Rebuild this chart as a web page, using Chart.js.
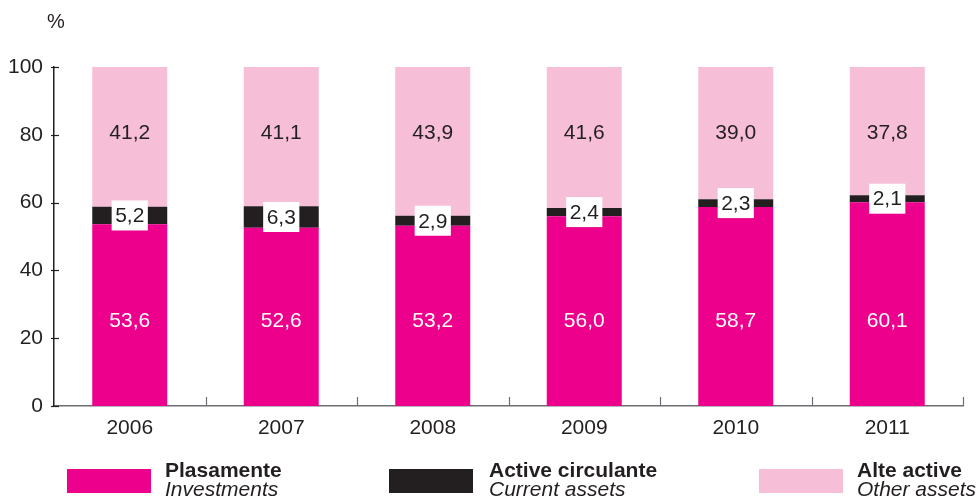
<!DOCTYPE html>
<html>
<head>
<meta charset="utf-8">
<script src="https://cdn.jsdelivr.net/npm/chart.js@4"></script>
<style>
  html, body { margin: 0; padding: 0; background: #fff; }
  #wrap { width: 980px; height: 501px; }
</style>
</head>
<body>
<div id="wrap"><canvas id="structChart" width="980" height="501"></canvas></div>
<script>
// Structura activelor (%)
const years = ["2006", "2007", "2008", "2009", "2010", "2011"];
const plasamente = [53.6, 52.6, 53.2, 56.0, 58.7, 60.1];
const activeCirculante = [5.2, 6.3, 2.9, 2.4, 2.3, 2.1];
const alteActive = [41.2, 41.1, 43.9, 41.6, 39.0, 37.8];
const yTicks = [0, 20, 40, 60, 80, 100];

const MAGENTA = "#ec008c";
const DARK = "#231f20";
const LIGHT = "#f6bfd7";
const FONT = "'Liberation Sans', Arial, sans-serif";

const fmt = (v) => v.toFixed(1).replace(".", ",");

// etichetele de valoare: cele roz pe un rand comun, cele negre in caseta alba
const valueLabels = {
  id: "valueLabels",
  afterDatasetsDraw(chart) {
    const ctx = chart.ctx;
    const ys = chart.scales.y;
    ctx.save();
    ctx.font = "21px " + FONT;
    ctx.textAlign = "center";
    ctx.textBaseline = "middle";
    chart.data.datasets.forEach((ds, i) => {
      const meta = chart.getDatasetMeta(i);
      meta.data.forEach((bar, j) => {
        const txt = fmt(ds.data[j]);
        let y;
        if (i === 0) {
          y = ys.getPixelForValue(25.4);
          ctx.fillStyle = "#fff";
        } else if (i === 1) {
          y = (bar.y + bar.base) / 2;
          const w = ctx.measureText(txt).width + 7;
          ctx.fillStyle = "#fff";
          ctx.fillRect(bar.x - w / 2, y - 15, w, 30);
          ctx.fillStyle = DARK;
        } else {
          y = ys.getPixelForValue(80.8);
          ctx.fillStyle = DARK;
        }
        ctx.fillText(txt, bar.x, y + 1);
      });
    });
    ctx.restore();
  }
};

// liniutele axelor, simbolul % si legenda de jos
const decorations = {
  id: "decorations",
  afterDraw(chart) {
    const ctx = chart.ctx;
    const ys = chart.scales.y;
    const xs = chart.scales.x;
    const left = chart.chartArea.left;
    const bottom = chart.chartArea.bottom;
    ctx.save();
    ctx.strokeStyle = DARK;
    ctx.lineWidth = 1.2;
    yTicks.forEach((t) => {
      const y = Math.round(ys.getPixelForValue(t)) + 0.5;
      ctx.beginPath();
      ctx.moveTo(left - 3, y);
      ctx.lineTo(left + 5, y);
      ctx.stroke();
    });
    // liniute intre ani si la capatul axei
    ctx.strokeStyle = "#6d6e71";
    const step = xs.getPixelForValue(1) - xs.getPixelForValue(0);
    for (let k = 0; k < years.length; k++) {
      const xx = k < years.length - 1 ? xs.getPixelForValue(k) + step / 2 : xs.right;
      ctx.beginPath();
      ctx.moveTo(Math.round(xx) + 0.5, bottom);
      ctx.lineTo(Math.round(xx) + 0.5, bottom - 9);
      ctx.stroke();
    }

    ctx.fillStyle = DARK;
    ctx.font = "20px " + FONT;
    ctx.textAlign = "left";
    ctx.textBaseline = "alphabetic";
    ctx.fillText("%", 47, 28);

    const items = [
      { color: MAGENTA, ro: "Plasamente", en: "Investments", box: 67, text: 165 },
      { color: DARK, ro: "Active circulante", en: "Current assets", box: 389, text: 489 },
      { color: LIGHT, ro: "Alte active", en: "Other assets", box: 759, text: 857 }
    ];
    items.forEach((it) => {
      ctx.fillStyle = it.color;
      ctx.fillRect(it.box, 469, 84, 24);
      ctx.fillStyle = DARK;
      ctx.font = "bold 21px " + FONT;
      ctx.fillText(it.ro, it.text, 477);
      ctx.font = "italic 21px " + FONT;
      ctx.fillText(it.en, it.text, 496);
    });
    ctx.restore();
  }
};

new Chart(document.getElementById("structChart"), {
  type: "bar",
  data: {
    labels: years,
    datasets: [
      { label: "Plasamente", data: plasamente, backgroundColor: MAGENTA },
      { label: "Active circulante", data: activeCirculante, backgroundColor: DARK },
      { label: "Alte active", data: alteActive, backgroundColor: LIGHT }
    ]
  },
  options: {
    responsive: false,
    animation: false,
    events: [],
    layout: { padding: { top: 67, right: 17, left: 0, bottom: 0 } },
    plugins: {
      legend: { display: false },
      tooltip: { enabled: false }
    },
    datasets: { bar: { barPercentage: 0.495, categoryPercentage: 1 } },
    scales: {
      x: {
        stacked: true,
        grid: { display: false, drawTicks: false },
        border: { display: true, color: "#6d6e71", width: 1.5 },
        ticks: { color: DARK, font: { family: FONT, size: 21 }, padding: 10 },
        afterFit(scale) { scale.height = 95; }
      },
      y: {
        stacked: true,
        min: 0,
        max: 100,
        afterBuildTicks(scale) { scale.ticks = yTicks.map((v) => ({ value: v })); },
        grid: { display: false, drawTicks: false },
        border: { display: true, color: DARK, width: 1.5 },
        ticks: { color: DARK, font: { family: FONT, size: 21 }, padding: 11 },
        afterFit(scale) { scale.width = 54; }
      }
    }
  },
  plugins: [valueLabels, decorations]
});
</script>
</body>
</html>
